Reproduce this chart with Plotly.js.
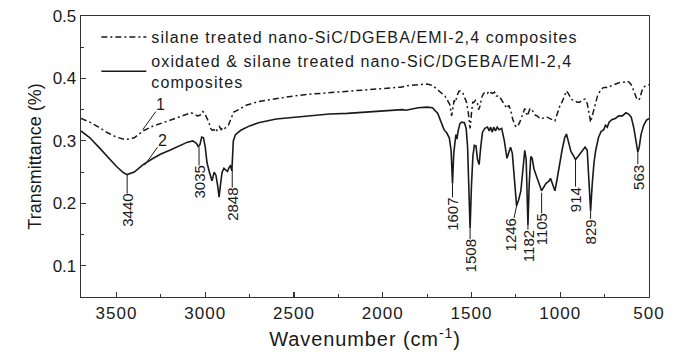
<!DOCTYPE html>
<html>
<head>
<meta charset="utf-8">
<script src="https://cdn.plot.ly/plotly-3.0.1.min.js"></script>
<style>
html,body{margin:0;padding:0;background:#fff;}
#chart{width:677px;height:352px;}
#chart .legendtext{letter-spacing:1.1px;}
#chart .legend, #chart .legend *{clip-path:none !important;}
#chart .xtick text{letter-spacing:1px;}
#chart .xtitle{letter-spacing:0.9px;}
</style>
</head>
<body>
<div id="chart"></div>
<script>
// ---- Data ----
const seriesNames = [
  "silane treated nano-SiC/DGEBA/EMI-2,4 composites",
  "oxidated &amp; silane treated nano-SiC/DGEBA/EMI-2,4<br>composites"
];

const wn1 = [3700,3650,3600,3550,3500,3450,3400,3350,3300,3250,3200,3150,3100,3080,3060,3045,3030,3015,3005,2990,2980,2970,2960,2950,2940,2930,2920,2910,2900,2890,2880,2870,2860,2850,2840,2820,2800,2770,2700,2600,2500,2400,2300,2200,2100,2000,1950,1900,1850,1800,1750,1720,1690,1665,1650,1635,1622,1612,1605,1598,1590,1582,1570,1560,1548,1538,1528,1518,1508,1500,1493,1486,1478,1468,1460,1452,1442,1432,1420,1410,1400,1390,1380,1370,1360,1345,1330,1315,1300,1290,1280,1268,1255,1246,1235,1225,1210,1200,1192,1185,1178,1170,1160,1150,1140,1130,1115,1105,1090,1075,1060,1045,1030,1015,1000,990,975,965,955,945,935,920,905,890,875,860,848,838,829,820,810,800,790,775,760,745,730,715,700,680,660,640,625,612,600,590,580,570,560,552,545,535,520,505,500];
const tr1 = [0.336,0.330,0.322,0.313,0.306,0.302,0.305,0.316,0.323,0.328,0.333,0.338,0.343,0.345,0.343,0.340,0.341,0.347,0.345,0.337,0.330,0.320,0.317,0.318,0.314,0.320,0.323,0.318,0.322,0.320,0.322,0.325,0.332,0.338,0.346,0.349,0.352,0.357,0.363,0.368,0.372,0.375,0.377,0.379,0.381,0.383,0.384,0.386,0.389,0.390,0.391,0.389,0.382,0.375,0.372,0.365,0.358,0.340,0.352,0.365,0.362,0.372,0.380,0.380,0.376,0.370,0.362,0.345,0.320,0.345,0.362,0.362,0.365,0.362,0.350,0.356,0.370,0.376,0.378,0.376,0.380,0.377,0.376,0.378,0.372,0.372,0.365,0.360,0.352,0.357,0.350,0.335,0.325,0.322,0.326,0.332,0.345,0.352,0.345,0.340,0.346,0.352,0.350,0.345,0.341,0.340,0.336,0.335,0.338,0.338,0.336,0.335,0.332,0.345,0.358,0.362,0.372,0.380,0.376,0.370,0.366,0.365,0.362,0.362,0.366,0.367,0.360,0.345,0.330,0.340,0.352,0.362,0.372,0.380,0.385,0.386,0.385,0.388,0.390,0.392,0.394,0.394,0.396,0.394,0.390,0.384,0.376,0.368,0.365,0.368,0.376,0.385,0.388,0.390,0.390];

const wn2 = [3700,3650,3600,3550,3500,3460,3440,3400,3350,3300,3250,3200,3150,3100,3070,3050,3040,3030,3020,3010,3000,2990,2975,2962,2950,2940,2930,2922,2912,2905,2895,2885,2875,2865,2858,2850,2846,2842,2830,2800,2750,2700,2600,2500,2400,2300,2200,2100,2000,1950,1890,1870,1800,1750,1720,1690,1670,1655,1640,1625,1615,1607,1600,1594,1588,1582,1576,1565,1555,1540,1530,1522,1515,1508,1500,1492,1484,1475,1466,1457,1448,1438,1425,1410,1400,1392,1383,1375,1365,1355,1345,1330,1315,1300,1288,1280,1270,1258,1246,1235,1222,1210,1200,1192,1182,1175,1166,1158,1148,1130,1115,1105,1095,1080,1065,1055,1045,1030,1020,1005,990,975,965,955,940,925,914,900,880,860,848,838,829,820,810,800,785,770,755,745,735,725,710,690,670,650,630,615,600,585,575,563,555,545,530,515,500];
const tr2 = [0.316,0.305,0.290,0.274,0.259,0.249,0.246,0.250,0.262,0.271,0.279,0.285,0.292,0.298,0.300,0.296,0.291,0.294,0.306,0.305,0.290,0.265,0.248,0.236,0.250,0.245,0.228,0.210,0.235,0.250,0.256,0.253,0.251,0.258,0.260,0.252,0.270,0.300,0.310,0.317,0.324,0.329,0.335,0.338,0.341,0.343,0.344,0.346,0.347,0.348,0.350,0.349,0.353,0.354,0.353,0.344,0.330,0.318,0.313,0.305,0.285,0.232,0.280,0.303,0.310,0.303,0.315,0.328,0.330,0.329,0.320,0.290,0.230,0.160,0.230,0.276,0.293,0.292,0.270,0.262,0.290,0.314,0.320,0.322,0.316,0.322,0.314,0.322,0.316,0.322,0.318,0.320,0.300,0.272,0.283,0.290,0.280,0.230,0.196,0.205,0.220,0.255,0.285,0.270,0.165,0.230,0.275,0.272,0.255,0.240,0.228,0.220,0.225,0.232,0.235,0.240,0.232,0.220,0.235,0.262,0.285,0.305,0.311,0.300,0.283,0.276,0.270,0.275,0.282,0.290,0.285,0.240,0.188,0.230,0.265,0.285,0.305,0.315,0.318,0.325,0.322,0.330,0.334,0.336,0.340,0.340,0.345,0.343,0.338,0.320,0.300,0.282,0.290,0.310,0.325,0.333,0.336];

// peak labels
const peakLabels = ["3440","3035","2848","1607","1508","1246","1182","1105","914","829","563"];
const peakWn     = [3440, 3035, 2848, 1607, 1508, 1246, 1182, 1105, 914, 829, 563];
const peakTr     = [0.246,0.291,0.254,0.232,0.160,0.196,0.165,0.217,0.270,0.188,0.282];
// curve number labels
const curveLabels = ["1","2"];
const curveLabelWn = [3352, 3342];
const curveLabelTr = [0.318, 0.261];

// ---- styling / layout (not data) ----
const peakOffsetY = [36,36,35,31,28,29,21,37,40,21,25];   // px below the point
const peakOffsetX = [0,0,0,0,0,-6,0,0,0,0,0];
const FONT = "Liberation Sans, Arial, Helvetica, sans-serif";
const INK = "#1a1a1a";

const traces = [
  {x: wn1, y: tr1, name: seriesNames[0], type: "scatter", mode: "lines",
   line: {color: INK, width: 1.5, dash: "6px,3px,2px,3px"}},
  {x: wn2, y: tr2, name: seriesNames[1], type: "scatter", mode: "lines",
   line: {color: INK, width: 1.6}}
];

const annotations = [];
peakLabels.forEach((t, i) => {
  annotations.push({
    x: peakWn[i], y: peakTr[i], xref: "x", yref: "y",
    text: t, textangle: -90, showarrow: true, arrowhead: 0, arrowwidth: 1,
    arrowcolor: INK, ax: peakOffsetX[i], ay: peakOffsetY[i], standoff: 0,
    font: {family: FONT, size: 15, color: INK}, borderpad: 0
  });
});
curveLabels.forEach((t, i) => {
  annotations.push({
    x: curveLabelWn[i], y: curveLabelTr[i], xref: "x", yref: "y",
    text: t, showarrow: true, arrowhead: 0, arrowwidth: 1, arrowcolor: INK,
    ax: 18, ay: -25, standoff: 0, borderpad: 0,
    font: {family: FONT, size: 16, color: INK}
  });
});

const layout = {
  width: 677, height: 352,
  margin: {l: 81, r: 28, t: 16, b: 55},
  paper_bgcolor: "#fff", plot_bgcolor: "#fff",
  font: {family: FONT, color: INK},
  showlegend: true,
  legend: {x: 0.027, y: 0.985, xanchor: "left", yanchor: "top",
           bgcolor: "rgba(0,0,0,0)", font: {family: FONT, size: 16, color: INK},
           itemwidth: 45, tracegroupgap: 0, traceorder: "normal"},
  xaxis: {
    range: [3700, 500], autorange: false,
    tickvals: [3500,3000,2500,2000,1500,1000,500],
    ticks: "inside", ticklen: 5, tickwidth: 1.2, tickcolor: "#333",
    minor: {dtick: 250, tick0: 0, ticks: "inside", ticklen: 3, tickwidth: 1, tickcolor: "#333"},
    showline: true, linecolor: "#333", linewidth: 1.3, mirror: true,
    showgrid: false, zeroline: false,
    tickfont: {family: FONT, size: 17, color: INK},
    title: {text: "Wavenumber (cm<sup>-1</sup>)", font: {family: FONT, size: 20, color: INK}, standoff: 10}
  },
  yaxis: {
    range: [0.05, 0.5], autorange: false,
    tickvals: [0.1,0.2,0.3,0.4,0.5],
    ticks: "inside", ticklen: 5, tickwidth: 1.2, tickcolor: "#333",
    minor: {dtick: 0.05, tick0: 0, ticks: "inside", ticklen: 3, tickwidth: 1, tickcolor: "#333"},
    showline: true, linecolor: "#333", linewidth: 1.3, mirror: true,
    showgrid: false, zeroline: false,
    tickfont: {family: FONT, size: 17, color: INK},
    title: {text: "Transmittance (%)", font: {family: FONT, size: 18, color: INK}, standoff: 6}
  },
  annotations: annotations
};

Plotly.newPlot("chart", traces, layout, {staticPlot: true, displayModeBar: false});
</script>
</body>
</html>
